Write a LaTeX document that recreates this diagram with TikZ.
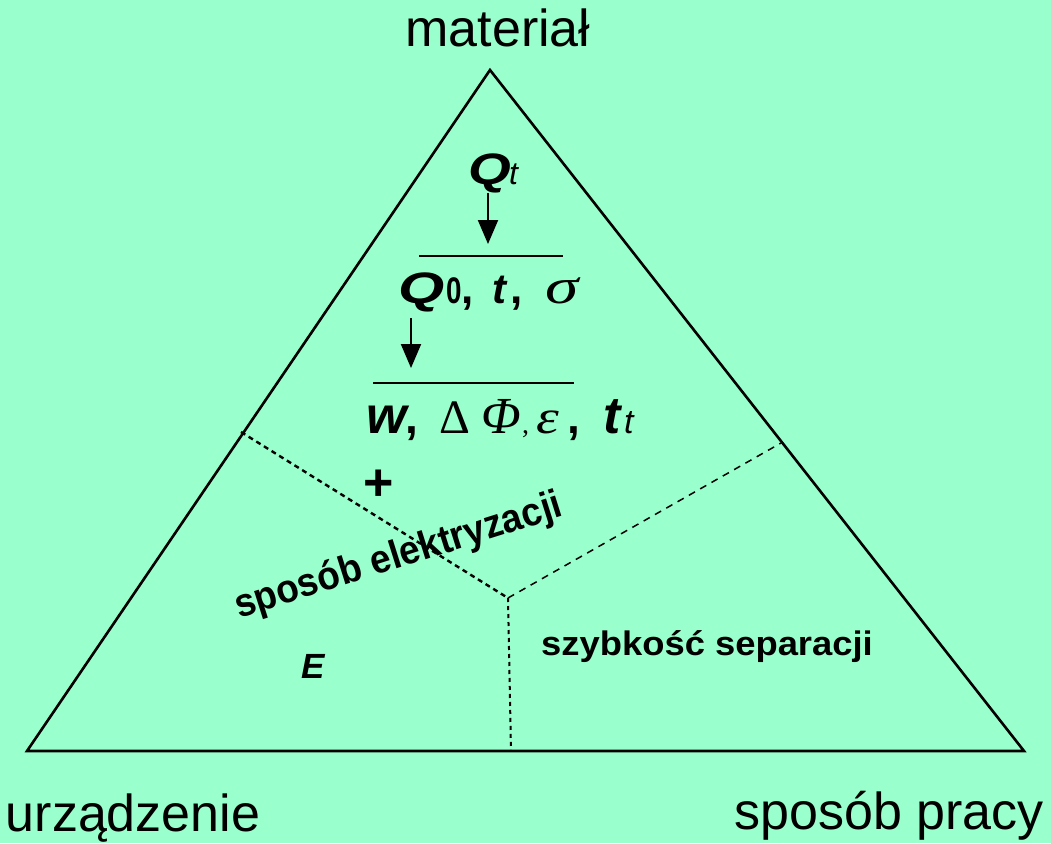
\documentclass[tikz,border=0pt]{standalone}
\usepackage{fontspec}
\usepackage{graphicx}
\setmainfont{Liberation Sans}
\newfontfamily\seriffont{Liberation Serif}
\usetikzlibrary{arrows.meta}
\definecolor{bgmint}{RGB}{153,255,204}
\newcommand{\fsz}[1]{\fontsize{#1}{#1}\selectfont}
\newcommand{\hsx}[2]{\scalebox{#1}[1]{#2}}
\begin{document}
\begin{tikzpicture}[x=1pt,y=-1pt,
  biglabel/.style={font=\fsz{52}, inner sep=0pt, anchor=base},
  piece/.style={inner sep=0pt, anchor=base west},
  tri/.style={line width=2.6pt, line join=miter},
  flowarrow/.style={line width=2pt, -{Triangle[length=24pt,width=20pt]}},
  rule/.style={line width=2.6pt},
  leftdiv/.style={line width=2.4pt, dash pattern=on 5pt off 4pt},
  rightdiv/.style={line width=1.5pt, dash pattern=on 7pt off 6pt},
  downdiv/.style={line width=2pt, dash pattern=on 4pt off 4pt},
  smalllabel/.style={inner sep=0pt}]
\fill[bgmint] (0,0) rectangle (1051,843);
\useasboundingbox (0,0) rectangle (1051,843);
% triangle corners
\coordinate (apex) at (490,70);
\coordinate (bl) at (27,751);
\coordinate (br) at (1024,751);
\draw[tri] (apex) -- (bl) -- (br) -- cycle;
% division lines
\coordinate (jn) at (508,598);
\coordinate (ls) at (241,432);
\coordinate (rs) at (781,443);
\coordinate (bs) at (511,751);
\draw[leftdiv] (ls) -- (jn);
\draw[rightdiv] (jn) -- (rs);
\draw[downdiv] (jn) -- (bs);
% corner labels
\node[biglabel] (mat) at (498,46) {materiał};
\node[biglabel] (urz) at (133,831) {urządzenie};
\node[biglabel] (spr) at (889,829) {sposób pracy};
% line 1: Q_t
\node[piece] (qtq) at (468,184) {\fsz{44}\bfseries\itshape\hsx{1.25}{Q}};
\node[piece] (qtt) at (509,184) {\fsz{32}\itshape t};
\coordinate (a1s) at (488,193);
\coordinate (a1e) at (488,244);
\draw[flowarrow] (a1s) -- (a1e);
\coordinate (r1a) at (419,256);
\coordinate (r1b) at (563,256);
\draw[rule] (r1a) -- (r1b);
% line 2: Q_0, t, sigma
\node[piece] (q0q) at (398,303) {\fsz{44}\bfseries\itshape\hsx{1.35}{Q}};
\node[piece] (q0z) at (446,303) {\fsz{37}\bfseries\hsx{0.75}{0}};
\node[piece] (q0c1) at (461,303) {\fsz{44}\bfseries ,};
\node[piece] (q0t) at (492,303) {\fsz{42}\bfseries\itshape t};
\node[piece] (q0c2) at (510,303) {\fsz{44}\bfseries ,};
\node[piece] (q0s) at (545,303) {\fsz{50}\seriffont\itshape\hsx{1.35}{σ}};
\coordinate (a2s) at (411,318);
\coordinate (a2e) at (411,368);
\draw[flowarrow] (a2s) -- (a2e);
\coordinate (r2a) at (373,383);
\coordinate (r2b) at (574,383);
\draw[rule] (r2a) -- (r2b);
% line 3: w, Delta Phi, epsilon, t_t
\node[piece] (lw) at (366,433) {\fsz{52}\bfseries\itshape w};
\node[piece] (lc1) at (405,433) {\fsz{46}\bfseries ,};
\node[piece] (ld) at (439,433) {\fsz{48}\seriffont Δ};
\node[piece] (lphi) at (481,433) {\fsz{52}\seriffont\itshape Φ};
\node[piece] (lc2) at (522,433) {\fsz{28}\seriffont ,};
\node[piece] (leps) at (536,433) {\fsz{48}\seriffont\itshape\hsx{1.2}{ε}};
\node[piece] (lc3) at (567,433) {\fsz{46}\bfseries ,};
\node[piece] (ltt) at (603,433) {\fsz{52}\bfseries\itshape t};
\node[piece] (lts) at (624,433) {\fsz{34}\itshape t};
% region labels
\node[smalllabel, font=\fsz{52}\bfseries] (plus) at (379,485) {+};
\node[smalllabel, font=\fsz{37}\bfseries, anchor=base, rotate=17.5] (spe) at (402,567) {\scalebox{1}[1.08]{sposób elektryzacji}};
\node[smalllabel, font=\fsz{35}\bfseries\itshape, anchor=base west] (e) at (301,678) {E};
\node[smalllabel, font=\fsz{34}\bfseries, anchor=base west] (szs) at (541,655) {\hsx{1.07}{szybkość separacji}};
\end{tikzpicture}
\end{document}
